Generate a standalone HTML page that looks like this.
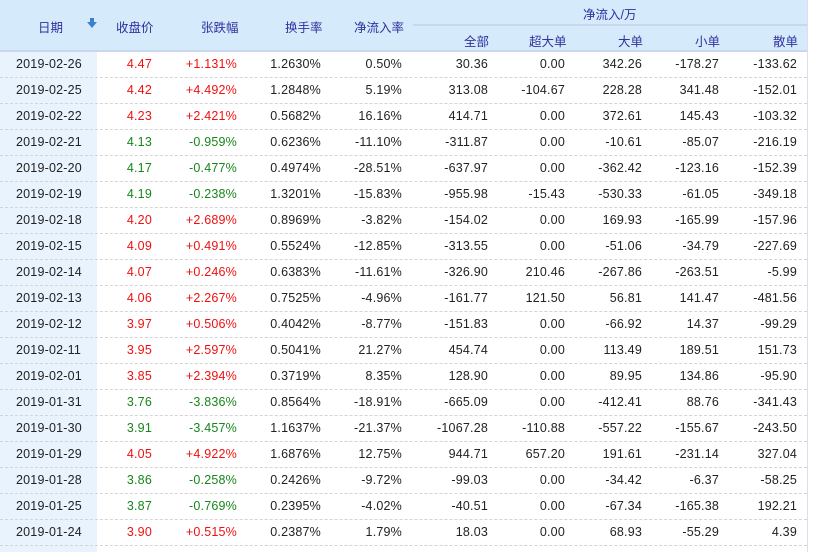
<!DOCTYPE html>
<html><head><meta charset="utf-8"><style>
body{margin:0;width:813px;height:552px;background:#fff;font-family:"Liberation Sans","Noto Sans CJK SC",sans-serif;font-size:12.5px;color:#222;position:relative;overflow:hidden}
.hd{position:absolute;left:0;top:0;width:807px;height:50px;background:#d5eafb;border-bottom:2px solid #c9d6ec}
.dc{position:absolute;left:0;top:52px;width:97px;height:500px;background:#e8f3fd}
.rb{position:absolute;left:807px;top:0;width:1px;height:552px;background:#dde}
.h{position:absolute;color:#3131a0;white-space:nowrap;font-size:12.5px}
.r{position:absolute;left:0;width:807px;height:26px;border-bottom:1px dashed #d4d4d4;box-sizing:border-box}
.r span{position:absolute;top:5px;white-space:nowrap;letter-spacing:0.2px}
.d{left:16px}
.a{right:655px}.b{right:570px}.c{right:486px}.e{right:405px}.f{right:319px}.g{right:242px}.i{right:165px}.j{right:88px}.k{right:10px}
.u{color:#f01010}.n{color:#17861a}
</style></head><body>
<div class="hd"></div><div class="dc"></div><div class="rb"></div>
<div class="h" style="left:38px;top:17px">日期</div>
<div style="position:absolute;left:87px;top:22px;width:0;height:0;border-left:5px solid transparent;border-right:5px solid transparent;border-top:6px solid #3a80d0"></div>
<div style="position:absolute;left:90px;top:18px;width:4px;height:4px;background:#3a80d0"></div>
<div class="h" style="left:116px;top:17px">收盘价</div>
<div class="h" style="left:201px;top:17px">张跌幅</div>
<div class="h" style="left:285px;top:17px">换手率</div>
<div class="h" style="left:354px;top:17px">净流入率</div>
<div class="h" style="left:583px;top:4px">净流入/万</div>
<div style="position:absolute;left:413px;top:24px;width:394px;height:2px;background:#c9d6ec"></div>
<div class="h" style="left:464px;top:31px">全部</div>
<div class="h" style="left:529px;top:31px">超大单</div>
<div class="h" style="left:618px;top:31px">大单</div>
<div class="h" style="left:695px;top:31px">小单</div>
<div class="h" style="left:773px;top:31px">散单</div>

<div class="r" style="top:52px"><span class="d">2019-02-26</span><span class="a u">4.47</span><span class="b u">+1.131%</span><span class="c">1.2630%</span><span class="e">0.50%</span><span class="f">30.36</span><span class="g">0.00</span><span class="i">342.26</span><span class="j">-178.27</span><span class="k">-133.62</span></div>
<div class="r" style="top:78px"><span class="d">2019-02-25</span><span class="a u">4.42</span><span class="b u">+4.492%</span><span class="c">1.2848%</span><span class="e">5.19%</span><span class="f">313.08</span><span class="g">-104.67</span><span class="i">228.28</span><span class="j">341.48</span><span class="k">-152.01</span></div>
<div class="r" style="top:104px"><span class="d">2019-02-22</span><span class="a u">4.23</span><span class="b u">+2.421%</span><span class="c">0.5682%</span><span class="e">16.16%</span><span class="f">414.71</span><span class="g">0.00</span><span class="i">372.61</span><span class="j">145.43</span><span class="k">-103.32</span></div>
<div class="r" style="top:130px"><span class="d">2019-02-21</span><span class="a n">4.13</span><span class="b n">-0.959%</span><span class="c">0.6236%</span><span class="e">-11.10%</span><span class="f">-311.87</span><span class="g">0.00</span><span class="i">-10.61</span><span class="j">-85.07</span><span class="k">-216.19</span></div>
<div class="r" style="top:156px"><span class="d">2019-02-20</span><span class="a n">4.17</span><span class="b n">-0.477%</span><span class="c">0.4974%</span><span class="e">-28.51%</span><span class="f">-637.97</span><span class="g">0.00</span><span class="i">-362.42</span><span class="j">-123.16</span><span class="k">-152.39</span></div>
<div class="r" style="top:182px"><span class="d">2019-02-19</span><span class="a n">4.19</span><span class="b n">-0.238%</span><span class="c">1.3201%</span><span class="e">-15.83%</span><span class="f">-955.98</span><span class="g">-15.43</span><span class="i">-530.33</span><span class="j">-61.05</span><span class="k">-349.18</span></div>
<div class="r" style="top:208px"><span class="d">2019-02-18</span><span class="a u">4.20</span><span class="b u">+2.689%</span><span class="c">0.8969%</span><span class="e">-3.82%</span><span class="f">-154.02</span><span class="g">0.00</span><span class="i">169.93</span><span class="j">-165.99</span><span class="k">-157.96</span></div>
<div class="r" style="top:234px"><span class="d">2019-02-15</span><span class="a u">4.09</span><span class="b u">+0.491%</span><span class="c">0.5524%</span><span class="e">-12.85%</span><span class="f">-313.55</span><span class="g">0.00</span><span class="i">-51.06</span><span class="j">-34.79</span><span class="k">-227.69</span></div>
<div class="r" style="top:260px"><span class="d">2019-02-14</span><span class="a u">4.07</span><span class="b u">+0.246%</span><span class="c">0.6383%</span><span class="e">-11.61%</span><span class="f">-326.90</span><span class="g">210.46</span><span class="i">-267.86</span><span class="j">-263.51</span><span class="k">-5.99</span></div>
<div class="r" style="top:286px"><span class="d">2019-02-13</span><span class="a u">4.06</span><span class="b u">+2.267%</span><span class="c">0.7525%</span><span class="e">-4.96%</span><span class="f">-161.77</span><span class="g">121.50</span><span class="i">56.81</span><span class="j">141.47</span><span class="k">-481.56</span></div>
<div class="r" style="top:312px"><span class="d">2019-02-12</span><span class="a u">3.97</span><span class="b u">+0.506%</span><span class="c">0.4042%</span><span class="e">-8.77%</span><span class="f">-151.83</span><span class="g">0.00</span><span class="i">-66.92</span><span class="j">14.37</span><span class="k">-99.29</span></div>
<div class="r" style="top:338px"><span class="d">2019-02-11</span><span class="a u">3.95</span><span class="b u">+2.597%</span><span class="c">0.5041%</span><span class="e">21.27%</span><span class="f">454.74</span><span class="g">0.00</span><span class="i">113.49</span><span class="j">189.51</span><span class="k">151.73</span></div>
<div class="r" style="top:364px"><span class="d">2019-02-01</span><span class="a u">3.85</span><span class="b u">+2.394%</span><span class="c">0.3719%</span><span class="e">8.35%</span><span class="f">128.90</span><span class="g">0.00</span><span class="i">89.95</span><span class="j">134.86</span><span class="k">-95.90</span></div>
<div class="r" style="top:390px"><span class="d">2019-01-31</span><span class="a n">3.76</span><span class="b n">-3.836%</span><span class="c">0.8564%</span><span class="e">-18.91%</span><span class="f">-665.09</span><span class="g">0.00</span><span class="i">-412.41</span><span class="j">88.76</span><span class="k">-341.43</span></div>
<div class="r" style="top:416px"><span class="d">2019-01-30</span><span class="a n">3.91</span><span class="b n">-3.457%</span><span class="c">1.1637%</span><span class="e">-21.37%</span><span class="f">-1067.28</span><span class="g">-110.88</span><span class="i">-557.22</span><span class="j">-155.67</span><span class="k">-243.50</span></div>
<div class="r" style="top:442px"><span class="d">2019-01-29</span><span class="a u">4.05</span><span class="b u">+4.922%</span><span class="c">1.6876%</span><span class="e">12.75%</span><span class="f">944.71</span><span class="g">657.20</span><span class="i">191.61</span><span class="j">-231.14</span><span class="k">327.04</span></div>
<div class="r" style="top:468px"><span class="d">2019-01-28</span><span class="a n">3.86</span><span class="b n">-0.258%</span><span class="c">0.2426%</span><span class="e">-9.72%</span><span class="f">-99.03</span><span class="g">0.00</span><span class="i">-34.42</span><span class="j">-6.37</span><span class="k">-58.25</span></div>
<div class="r" style="top:494px"><span class="d">2019-01-25</span><span class="a n">3.87</span><span class="b n">-0.769%</span><span class="c">0.2395%</span><span class="e">-4.02%</span><span class="f">-40.51</span><span class="g">0.00</span><span class="i">-67.34</span><span class="j">-165.38</span><span class="k">192.21</span></div>
<div class="r" style="top:520px"><span class="d">2019-01-24</span><span class="a u">3.90</span><span class="b u">+0.515%</span><span class="c">0.2387%</span><span class="e">1.79%</span><span class="f">18.03</span><span class="g">0.00</span><span class="i">68.93</span><span class="j">-55.29</span><span class="k">4.39</span></div>
</body></html>
